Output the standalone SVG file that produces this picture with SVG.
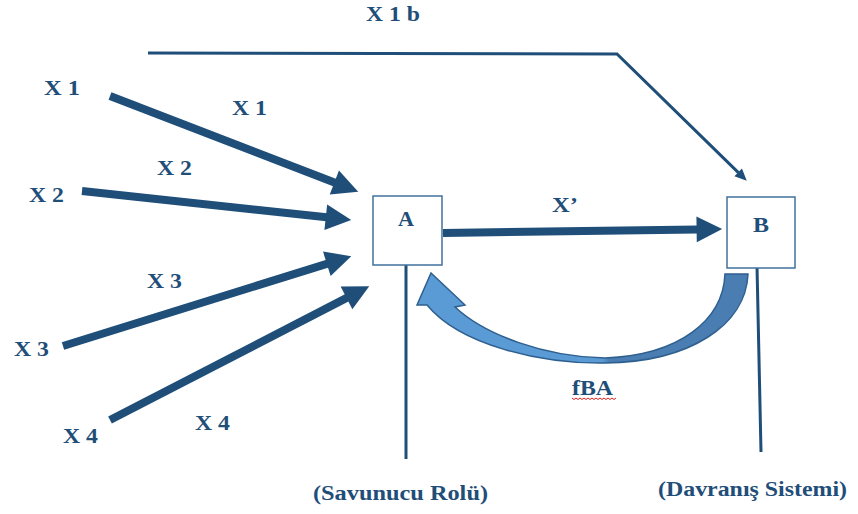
<svg xmlns="http://www.w3.org/2000/svg" width="858" height="514" viewBox="0 0 858 514">
  <style>
    .lbl { font-family: "Liberation Serif", "Times New Roman", serif; font-weight: bold; font-size: 20px; fill: #1F4E79; }
    .box { fill: #ffffff; stroke: #41719C; stroke-width: 1.5; }
    .thick { fill: none; stroke: #1F4E79; stroke-width: 8; stroke-linecap: butt; marker-end: url(#headBig); }
    .thin { fill: none; stroke: #1F4E79; stroke-width: 3; stroke-linejoin: miter; marker-end: url(#headSmall); }
    .stem { fill: none; stroke: #1F4E79; stroke-width: 3; }
  </style>
  <defs>
    <marker id="headBig" markerUnits="strokeWidth" markerWidth="3.2" markerHeight="3.2" refX="0.1" refY="1.6" orient="auto" overflow="visible">
      <path d="M0,0 L3.2,1.6 L0,3.2 Z" fill="#1F4E79"/>
    </marker>
    <marker id="headSmall" markerUnits="strokeWidth" markerWidth="4" markerHeight="3.6" refX="0.1" refY="1.8" orient="auto" overflow="visible">
      <path d="M0,0 L4,1.8 L0,3.6 Z" fill="#1F4E79"/>
    </marker>
    <linearGradient id="curveFill" gradientUnits="userSpaceOnUse" x1="417" y1="0" x2="748" y2="0">
      <stop offset="0" stop-color="#5B9BD5"/>
      <stop offset="0.56" stop-color="#5B9BD5"/>
      <stop offset="0.58" stop-color="#4A7EB2"/>
      <stop offset="1" stop-color="#4A7EB2"/>
    </linearGradient>
  </defs>

  <!-- connectors -->
  <g id="connectors">
    <path class="thin" d="M148,53 L617,54 L738.4,172.6"/>
    <line class="thick" x1="110" y1="96" x2="335.1" y2="182.8"/>
    <line class="thick" x1="82" y1="191" x2="326.6" y2="217.3"/>
    <line class="thick" x1="63" y1="346" x2="327.6" y2="263.6"/>
    <line class="thick" x1="110" y1="420" x2="347.2" y2="297.6"/>
    <line class="thick" x1="443" y1="233" x2="697.4" y2="229.4"/>
    <!-- feedback arrow B to A -->
    <path d="M605,363 C540,364 460,345 427,305 L417,305 L431,273 L465,305 L455,307 C485,335 545,357 605,358 C680,355 723,320 725,274 L748,274 C746,325 690,362 605,363 Z" fill="url(#curveFill)" stroke="#2F5F8F" stroke-width="1.5" stroke-linejoin="miter"/>
    <line class="stem" x1="406" y1="265" x2="406" y2="459"/>
    <line class="stem" x1="757" y1="266" x2="761" y2="452"/>
  </g>

  <!-- nodes -->
  <g id="nodeA">
    <rect class="box" x="373" y="196" width="69" height="69"/>
    <text class="lbl" x="398" y="226" textLength="16" lengthAdjust="spacingAndGlyphs">A</text>
  </g>
  <g id="nodeB">
    <rect class="box" x="727" y="197" width="68" height="71"/>
    <text class="lbl" x="753" y="232" textLength="16" lengthAdjust="spacingAndGlyphs">B</text>
  </g>

  <!-- labels -->
  <g id="labels">
    <text class="lbl" x="366" y="21" textLength="54" lengthAdjust="spacingAndGlyphs">X 1 b</text>
    <text class="lbl" x="44" y="95" textLength="36" lengthAdjust="spacingAndGlyphs">X 1</text>
    <text class="lbl" x="232" y="115" textLength="35" lengthAdjust="spacingAndGlyphs">X 1</text>
    <text class="lbl" x="157" y="175" textLength="35" lengthAdjust="spacingAndGlyphs">X 2</text>
    <text class="lbl" x="29" y="202" textLength="35" lengthAdjust="spacingAndGlyphs">X 2</text>
    <text class="lbl" x="147" y="288" textLength="35" lengthAdjust="spacingAndGlyphs">X 3</text>
    <text class="lbl" x="14" y="356" textLength="35" lengthAdjust="spacingAndGlyphs">X 3</text>
    <text class="lbl" x="195" y="430" textLength="35" lengthAdjust="spacingAndGlyphs">X 4</text>
    <text class="lbl" x="63" y="443" textLength="35" lengthAdjust="spacingAndGlyphs">X 4</text>
    <text class="lbl" x="552" y="212" textLength="26" lengthAdjust="spacingAndGlyphs">X’</text>
    <text class="lbl" x="572" y="395" textLength="41" lengthAdjust="spacingAndGlyphs">fBA</text>
    <path d="M572,398 l2,1.5 l2,-1.5 l2,1.5 l2,-1.5 l2,1.5 l2,-1.5 l2,1.5 l2,-1.5 l2,1.5 l2,-1.5 l2,1.5 l2,-1.5 l2,1.5 l2,-1.5 l2,1.5 l2,-1.5 l2,1.5 l2,-1.5 l2,1.5 l2,-1.5 l2,1.5 l2,-1.5" fill="none" stroke="#E02020" stroke-width="1"/>
    <text class="lbl" x="313" y="500" textLength="175" lengthAdjust="spacingAndGlyphs">(Savunucu Rolü)</text>
    <text class="lbl" x="658" y="496" textLength="189" lengthAdjust="spacingAndGlyphs">(Davranış Sistemi)</text>
  </g>
</svg>
